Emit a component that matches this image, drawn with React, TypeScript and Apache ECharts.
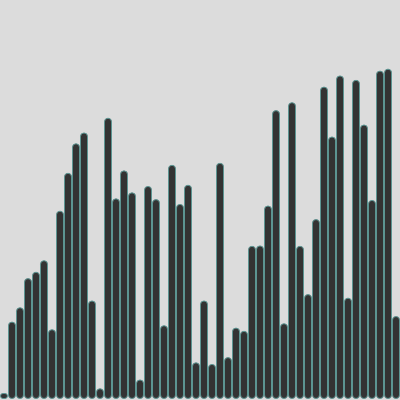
import { useEffect, useRef } from 'react';
import * as echarts from 'echarts';

const categories: string[] = Array.from({ length: 50 }, (_, i) => `${i + 1}`);

const values: number[] = [
  1.5, 19.4, 23.0, 30.3, 31.9, 34.8, 17.5, 47.2, 56.7, 64.1,
  66.8, 24.7, 2.7, 70.5, 50.3, 57.3, 51.8, 4.9, 53.4, 50.1,
  18.5, 58.7, 48.9, 53.7, 9.2, 24.7, 8.8, 59.2, 10.5, 17.9,
  17.1, 38.4, 38.5, 48.5, 72.4, 19.0, 74.4, 38.4, 26.3, 45.1,
  78.3, 65.8, 81.1, 25.4, 80.0, 68.8, 49.9, 82.3, 82.8, 20.8,
];

export default function App() {
  const chartRef = useRef<HTMLDivElement>(null);

  useEffect(() => {
    if (!chartRef.current) return;
    const chart = echarts.init(chartRef.current, null, { renderer: 'svg' });
    chart.setOption({
      animation: false,
      backgroundColor: '#dcdcdc',
      grid: { left: 0, right: 0, top: 0, bottom: 1 },
      xAxis: {
        type: 'category',
        data: categories,
        show: false,
      },
      yAxis: {
        type: 'value',
        min: 0,
        max: 100,
        show: false,
      },
      series: [
        {
          type: 'bar',
          data: values,
          barCategoryGap: '0%',
          itemStyle: {
            color: '#333333',
            borderColor: '#5c9592',
            borderWidth: 1,
            borderRadius: 4,
          },
        },
      ],
    });
    return () => chart.dispose();
  }, []);

  return (
    <div
      ref={chartRef}
      style={{ position: 'fixed', left: 0, top: 0, width: 400, height: 400 }}
    />
  );
}
